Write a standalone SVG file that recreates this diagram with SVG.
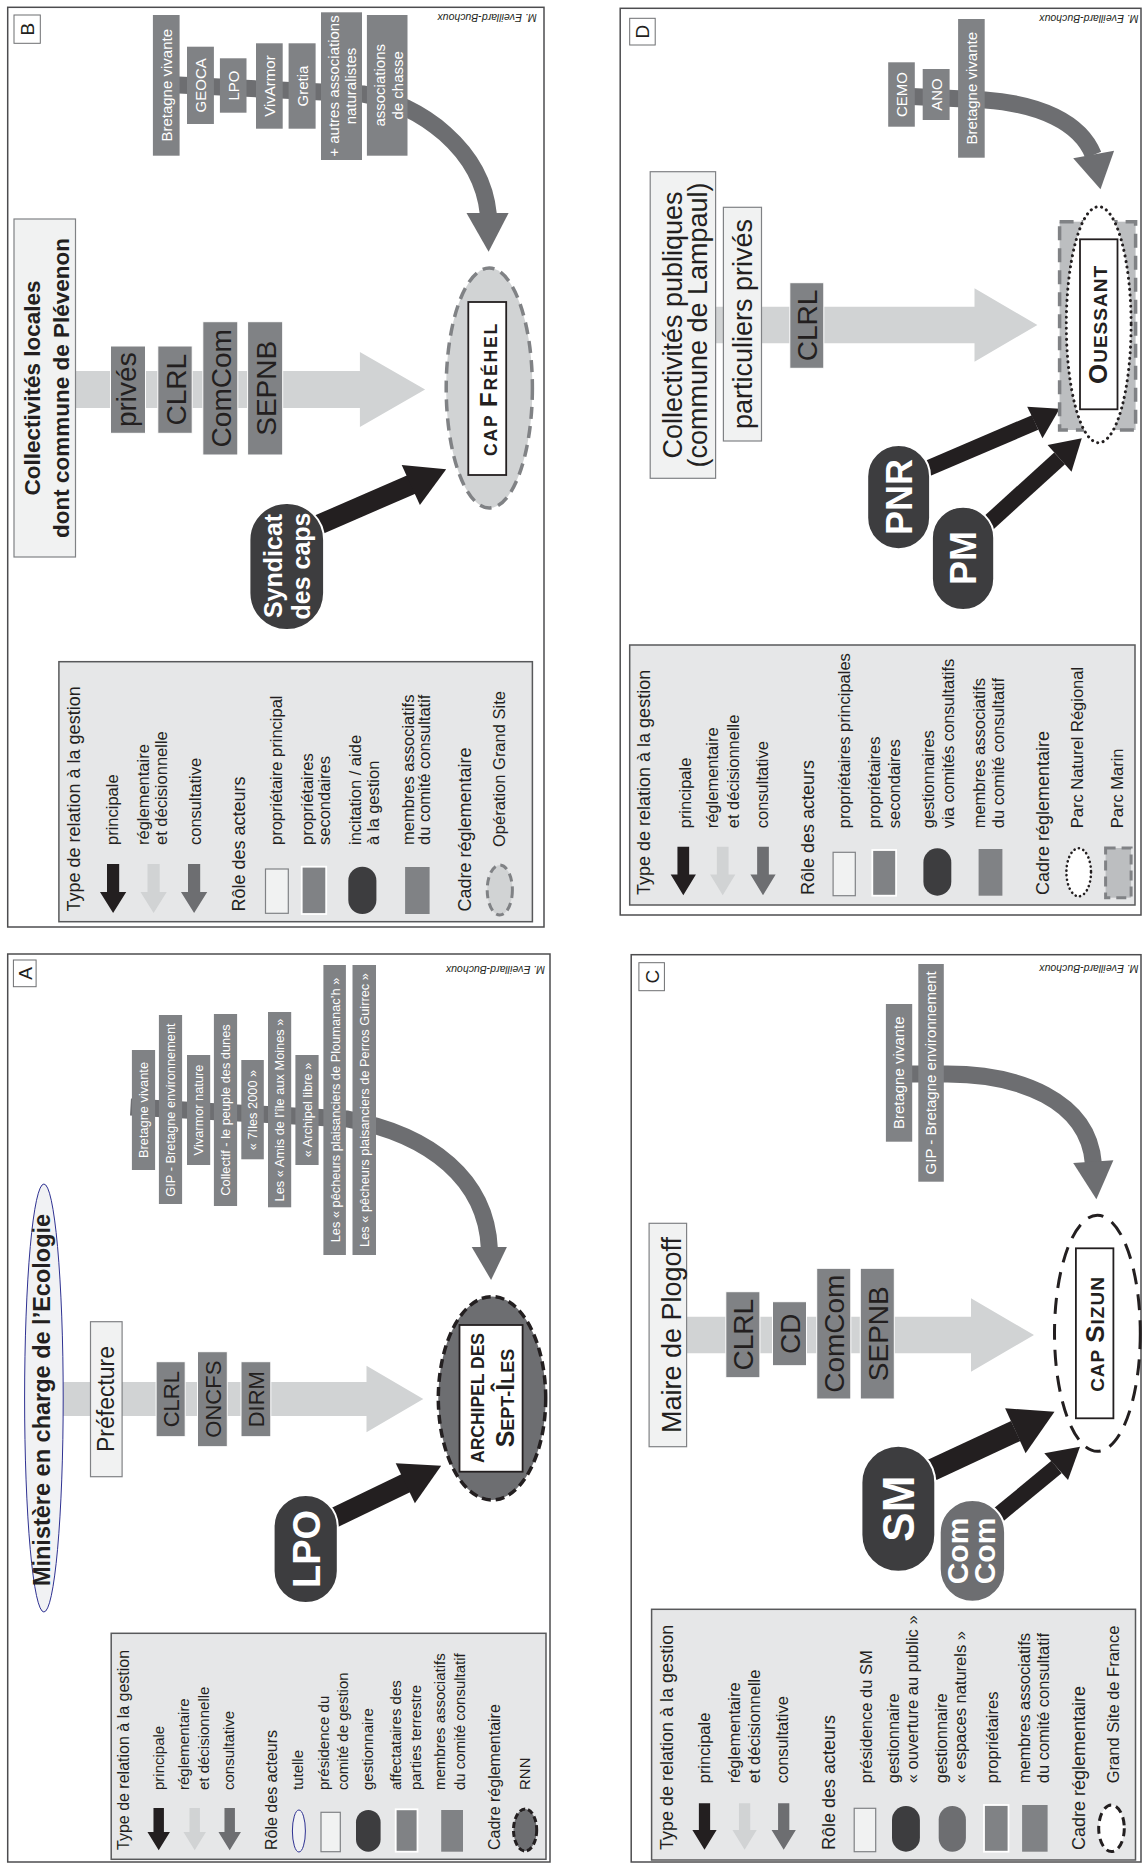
<svg xmlns="http://www.w3.org/2000/svg" width="1144" height="1863" viewBox="0 0 1144 1863">
<defs>
<style>
text{font-family:"Liberation Sans",Arial,Helvetica,sans-serif;fill:#231f20}
.frame{fill:#fff;stroke:#4d4d4f;stroke-width:1.5}
.tag{fill:#fff;stroke:#6d6e71;stroke-width:1}
.lt{fill:#f1f2f2;stroke:#808285;stroke-width:1.2}
.gr{fill:#808285;stroke:#fff;stroke-width:1}
.grw{fill:#808285;stroke:#fff;stroke-width:1.8}
.grn{fill:#808285}
.dk{fill:#3d3d3f;stroke:#fff;stroke-width:2}
.dkn{fill:#3d3d3f}
.md{fill:#6d6e71;stroke:#fff;stroke-width:2}
.mdn{fill:#6d6e71}
.band{fill:#d1d3d4}
.flow{fill:none;stroke:#6d6e71;stroke-width:17}
.flowhead{fill:#6d6e71}
.main{fill:none;stroke:#231f20}
.mainhead{fill:#231f20}
.legend{fill:#e6e7e8;stroke:#58595b;stroke-width:1.5}
.credit{font-style:italic;font-size:10.5px}
.wt{fill:#fff}
.b{font-weight:bold}
.hd{font-size:18px}
.it{font-size:16.5px}
.hda{font-size:16px}
.ita{font-size:15px}
.as{font-size:15px;fill:#fff}
.asa{font-size:12.8px;fill:#fff}
.act{font-size:28px}
.site{fill:#fff;stroke:#231f20;stroke-width:1.8}
</style>
<path id="arr" d="M-5.8 0H5.8V28H12.5L0 49L-12.5 28H-5.8Z"/>
</defs>
<rect x="0" y="0" width="1144" height="1863" fill="#fff"/>

<!-- ===================== Panel B : Cap Fréhel ===================== -->
<g id="panel-b">
<rect class="frame" x="7.7" y="7.3" width="536.3" height="919.7"/>
<g id="b-tag"><rect class="tag" x="14" y="15" width="26.3" height="28.3"/><text font-size="19" text-anchor="middle" transform="translate(34,29.2) rotate(-90)">B</text></g>
<text class="credit" transform="translate(536.7,14) rotate(180)">M. Eveillard-Buchoux</text>

<g id="b-connectors">
<polygon class="band" points="75.8,371 359.9,371 359.9,352 425.1,389.5 359.9,427 359.9,408 75.8,408"/>
<path class="flow" d="M158 84 L363 94 C421 104 482 150 488.3 214"/>
<polygon class="flowhead" points="466.5,213 508.6,213 488.6,251.7"/>
<path class="main" stroke-width="20" d="M315.7 526 L412.5 484"/>
<polygon class="mainhead" points="401.7,465 446.2,469.3 419.9,505"/>
</g>

<g id="b-collectivites"><rect class="lt" x="14" y="219" width="61.5" height="338"/><text class="b" font-size="22.5" text-anchor="middle" transform="translate(40,388) rotate(-90)"><tspan x="0">Collectivités locales</tspan><tspan x="0" dy="28.9">dont commune de Plévenon</tspan></text></g>
<g id="b-prives"><rect class="gr" x="110.5" y="346" width="35" height="87.3"/><text class="act" text-anchor="middle" transform="translate(136.3,389.7) rotate(-90)">privés</text></g>
<g id="b-clrl"><rect class="gr" x="157.8" y="346" width="34.4" height="87.3"/><text class="act" text-anchor="middle" transform="translate(185.5,389.7) rotate(-90)">CLRL</text></g>
<g id="b-comcom"><rect class="gr" x="202.8" y="321.7" width="35" height="133.3"/><text class="act" text-anchor="middle" transform="translate(231,388.3) rotate(-90)">ComCom</text></g>
<g id="b-sepnb"><rect class="gr" x="247.6" y="321.7" width="35.1" height="133.3"/><text class="act" text-anchor="middle" transform="translate(275.7,388.3) rotate(-90)">SEPNB</text></g>

<g id="b-bretagne-vivante"><rect class="grn" x="152.9" y="15" width="26.7" height="140.7"/><text class="as" text-anchor="middle" transform="translate(171.9,85.3) rotate(-90)">Bretagne vivante</text></g>
<g id="b-geoca"><rect class="grn" x="187" y="46.7" width="26.9" height="77.3"/><text class="as" text-anchor="middle" transform="translate(206.1,85.3) rotate(-90)">GEOCA</text></g>
<g id="b-lpo"><rect class="grn" x="219.9" y="58.3" width="26.6" height="54.4"/><text class="as" text-anchor="middle" transform="translate(239,85.5) rotate(-90)">LPO</text></g>
<g id="b-vivarmor"><rect class="grn" x="256" y="43.3" width="26.7" height="85.4"/><text class="as" text-anchor="middle" transform="translate(275.1,86) rotate(-90)">VivArmor</text></g>
<g id="b-gretia"><rect class="grn" x="288.6" y="43.3" width="27" height="85.4"/><text class="as" text-anchor="middle" transform="translate(307.9,86) rotate(-90)">Gretia</text></g>
<g id="b-autres"><rect class="grn" x="321" y="12.3" width="41" height="147.7"/><text class="as" font-size="14.3" text-anchor="middle" transform="translate(338.8,86) rotate(-90)"><tspan x="0">+ autres associations</tspan><tspan x="0" dy="16.8">naturalistes</tspan></text></g>
<g id="b-chasse"><rect class="grn" x="366.9" y="15" width="40.6" height="140.7"/><text class="as" text-anchor="middle" transform="translate(385.1,85.3) rotate(-90)"><tspan x="0">associations</tspan><tspan x="0" dy="17.9">de chasse</tspan></text></g>

<g id="b-cap-frehel"><ellipse cx="489.3" cy="388" rx="43.1" ry="120" fill="#d1d3d4" stroke="#808285" stroke-width="3.5" stroke-dasharray="12 7"/><rect class="site" x="468.3" y="302" width="37.9" height="173"/><text class="b" text-anchor="middle" letter-spacing="1.8" transform="translate(496.5,389) rotate(-90)"><tspan font-size="17.5">CAP </tspan><tspan font-size="24.5">F</tspan><tspan font-size="17.5">RÉHEL</tspan></text></g>
<g id="b-syndicat"><rect class="dk" x="249.4" y="503" width="74.7" height="127" rx="37"/><text class="b wt" font-size="25" text-anchor="middle" transform="translate(282,566) rotate(-90)"><tspan x="0">Syndicat</tspan><tspan x="0" dy="28.4">des caps</tspan></text></g>

<g id="b-legend">
<rect class="legend" x="58.9" y="661.7" width="473.5" height="260"/>
<text class="hd" transform="translate(80,911.5) rotate(-90)">Type de relation à la gestion</text>
<use href="#arr" transform="translate(113.1,864) scale(1.05,1)" fill="#231f20"/>
<use href="#arr" transform="translate(153.6,864) scale(1.05,1)" fill="#d1d3d4"/>
<use href="#arr" transform="translate(194.1,864) scale(1.05,1)" fill="#6d6e71"/>
<text class="it" transform="translate(118.4,845) rotate(-90)">principale</text>
<text class="it" transform="translate(149.4,845) rotate(-90)"><tspan x="0">réglementaire</tspan><tspan x="0" dy="17.9">et décisionnelle</tspan></text>
<text class="it" transform="translate(200.5,845) rotate(-90)">consultative</text>
<text class="hd" transform="translate(245.2,911.5) rotate(-90)">Rôle des acteurs</text>
<rect class="lt" x="265.5" y="869" width="22.8" height="44.3"/>
<text class="it" transform="translate(282,845) rotate(-90)">propriétaire principal</text>
<rect class="grw" x="301.7" y="866.7" width="24.5" height="47.3"/>
<text class="it" transform="translate(313.1,845) rotate(-90)"><tspan x="0">propriétaires</tspan><tspan x="0" dy="16.8">secondaires</tspan></text>
<rect class="dkn" x="348.3" y="866.7" width="28.1" height="47.3" rx="14"/>
<text class="it" transform="translate(360.9,845) rotate(-90)"><tspan x="0">incitation / aide</tspan><tspan x="0" dy="17.9">à la gestion</tspan></text>
<rect class="grn" x="405.1" y="867" width="24.5" height="47"/>
<text class="it" transform="translate(413.6,845) rotate(-90)"><tspan x="0">membres associatifs</tspan><tspan x="0" dy="16.8">du comité consultatif</tspan></text>
<text class="hd" transform="translate(471.4,911.5) rotate(-90)">Cadre réglementaire</text>
<ellipse cx="499.8" cy="890" rx="12.6" ry="25" fill="#d1d3d4" stroke="#808285" stroke-width="3" stroke-dasharray="8 5"/>
<text class="it" transform="translate(505.1,847) rotate(-90)">Opération Grand Site</text>
</g>
</g>

<!-- ===================== Panel A : Archipel des Sept-Îles ===================== -->
<g id="panel-a">
<rect class="frame" x="7.7" y="954" width="542.3" height="908"/>
<g id="a-tag"><rect class="tag" x="13.4" y="960" width="22.7" height="26.7"/><text font-size="19" text-anchor="middle" transform="translate(31.5,973.3) rotate(-90)">A</text></g>
<text class="credit" transform="translate(545.1,966) rotate(180)">M. Eveillard-Buchoux</text>

<g id="a-connectors">
<polygon class="band" points="63.1,1382 366.5,1382 366.5,1365.7 423.3,1399 366.5,1432.3 366.5,1416 63.1,1416"/>
<path class="flow" stroke-width="15" d="M130.5 1107 L347.3 1119 C431.4 1135 486.2 1180 489.3 1248"/>
<polygon class="flowhead" points="471.7,1247 506.9,1247 491.1,1280"/>
<path class="main" stroke-width="20" d="M331.5 1519 L406.2 1483"/>
<polygon class="mainhead" points="395.7,1463.3 441.2,1465.7 414.9,1503.3"/>
</g>

<g id="a-ministere"><ellipse cx="43.9" cy="1398" rx="19.3" ry="214" fill="#f1f2f4" stroke="#2e3192" stroke-width="1"/><text class="b" font-size="23.5" text-anchor="middle" transform="translate(50,1400) rotate(-90)">Ministère en charge de l’Ecologie</text></g>
<g id="a-prefecture"><rect class="lt" x="90.5" y="1321.7" width="31.6" height="155"/><text font-size="23" text-anchor="middle" transform="translate(114.2,1399) rotate(-90)">Préfecture</text></g>
<g id="a-clrl"><rect class="gr" x="156.1" y="1361.7" width="29.1" height="75"/><text font-size="22" text-anchor="middle" transform="translate(179,1399.2) rotate(-90)">CLRL</text></g>
<g id="a-oncfs"><rect class="gr" x="197.5" y="1351.7" width="29.8" height="95"/><text font-size="22" text-anchor="middle" transform="translate(220.7,1399.2) rotate(-90)">ONCFS</text></g>
<g id="a-dirm"><rect class="gr" x="241" y="1361.7" width="29.8" height="75"/><text font-size="22" text-anchor="middle" transform="translate(264.2,1399.2) rotate(-90)">DIRM</text></g>

<g id="a-bretagne-vivante"><rect class="grn" x="131.9" y="1050" width="23.2" height="120"/><text class="asa" text-anchor="middle" transform="translate(148.3,1110) rotate(-90)">Bretagne vivante</text></g>
<g id="a-gip"><rect class="grn" x="158.9" y="1015" width="23.2" height="189"/><text class="asa" text-anchor="middle" transform="translate(175.3,1110) rotate(-90)">GIP - Bretagne environnement</text></g>
<g id="a-vivarmor"><rect class="grn" x="187" y="1055" width="23.2" height="110"/><text class="asa" text-anchor="middle" transform="translate(203.4,1110) rotate(-90)">Vivarmor nature</text></g>
<g id="a-collectif"><rect class="grn" x="213.9" y="1014" width="23.2" height="192"/><text class="asa" text-anchor="middle" transform="translate(230.3,1110) rotate(-90)">Collectif - le peuple des dunes</text></g>
<g id="a-7iles"><rect class="grn" x="241.3" y="1060" width="22.5" height="99.3"/><text class="asa" text-anchor="middle" transform="translate(257.4,1110) rotate(-90)">« 7Iles 2000 »</text></g>
<g id="a-amis"><rect class="grn" x="268" y="1012" width="23.2" height="195.3"/><text class="asa" text-anchor="middle" transform="translate(284.4,1110) rotate(-90)">Les « Amis de l’île aux Moines »</text></g>
<g id="a-archipel-libre"><rect class="grn" x="295.4" y="1055" width="23.2" height="110"/><text class="asa" text-anchor="middle" transform="translate(311.8,1110) rotate(-90)">« Archipel libre »</text></g>
<g id="a-ploumanach"><rect class="grn" x="323.4" y="965" width="22.5" height="290"/><text class="asa" text-anchor="middle" transform="translate(339.5,1110) rotate(-90)">Les « pêcheurs plaisanciers de Ploumanac’h »</text></g>
<g id="a-perros"><rect class="grn" x="352.5" y="965" width="23.5" height="290"/><text class="asa" text-anchor="middle" transform="translate(368.9,1110) rotate(-90)">Les « pêcheurs plaisanciers de Perros Guirrec »</text></g>

<g id="a-sept-iles"><ellipse cx="492" cy="1398.3" rx="53.7" ry="101.7" fill="#6d6e71" stroke="#231f20" stroke-width="3.5" stroke-dasharray="9 5"/><rect class="site" x="459.5" y="1325" width="63.1" height="146.7" stroke-width="2"/><text class="b" text-anchor="middle" transform="translate(484,1398) rotate(-90)"><tspan x="0" font-size="17.5">ARCHIPEL DES</tspan><tspan x="0" dy="29.5"><tspan font-size="25">S</tspan><tspan font-size="18">EPT-</tspan><tspan font-size="25">Î</tspan><tspan font-size="18">LES</tspan></tspan></text></g>
<g id="a-lpo"><rect class="dk" x="273.6" y="1495" width="64.2" height="108" rx="32"/><text class="b wt" font-size="38" text-anchor="middle" transform="translate(320.4,1549) rotate(-90)">LPO</text></g>

<g id="a-legend">
<rect class="legend" x="111.2" y="1633.3" width="434.8" height="226"/>
<text class="hda" transform="translate(129.1,1850) rotate(-90)">Type de relation à la gestion</text>
<use href="#arr" transform="translate(158.7,1808) scale(0.9,0.86)" fill="#231f20"/>
<use href="#arr" transform="translate(194.7,1808) scale(0.9,0.86)" fill="#d1d3d4"/>
<use href="#arr" transform="translate(229.7,1808) scale(0.9,0.86)" fill="#6d6e71"/>
<text class="ita" transform="translate(164.2,1790) rotate(-90)">principale</text>
<text class="ita" transform="translate(189.4,1790) rotate(-90)"><tspan x="0">réglementaire</tspan><tspan x="0" dy="19.5">et décisionnelle</tspan></text>
<text class="ita" transform="translate(234.3,1790) rotate(-90)">consultative</text>
<text class="hda" transform="translate(277.1,1850) rotate(-90)">Rôle des acteurs</text>
<ellipse cx="298.9" cy="1831" rx="6.5" ry="21" fill="#f1f2f4" stroke="#2e3192" stroke-width="1"/>
<text class="ita" transform="translate(303.1,1790) rotate(-90)">tutelle</text>
<rect class="lt" x="321" y="1812.3" width="19.3" height="39.4"/>
<text class="ita" transform="translate(328.6,1790) rotate(-90)"><tspan x="0">présidence du</tspan><tspan x="0" dy="19.7">comité de gestion</tspan></text>
<rect class="dkn" x="356" y="1810" width="24.6" height="41.7" rx="12.3"/>
<text class="ita" transform="translate(372.8,1790) rotate(-90)">gestionnaire</text>
<rect class="grw" x="395.7" y="1809.3" width="21.8" height="42.4"/>
<text class="ita" transform="translate(400.9,1790) rotate(-90)"><tspan x="0">affectataires des</tspan><tspan x="0" dy="20">parties terrestre</tspan></text>
<rect class="grn" x="441.2" y="1810" width="21.8" height="41.7"/>
<text class="ita" transform="translate(445.4,1790) rotate(-90)"><tspan x="0">membres associatifs</tspan><tspan x="0" dy="19.4">du comité consultatif</tspan></text>
<text class="hda" transform="translate(499.8,1850) rotate(-90)">Cadre réglementaire</text>
<ellipse cx="525.1" cy="1830" rx="11.6" ry="21" fill="#6d6e71" stroke="#231f20" stroke-width="3" stroke-dasharray="6 3"/>
<text class="ita" transform="translate(529.6,1790) rotate(-90)">RNN</text>
</g>
</g>

<!-- ===================== Panel D : Ouessant ===================== -->
<g id="panel-d">
<rect class="frame" x="620.2" y="8.3" width="520.8" height="906.7"/>
<g id="d-tag"><rect class="tag" x="629.7" y="18.3" width="25.5" height="26.7"/><text font-size="19" text-anchor="middle" transform="translate(649.4,31.7) rotate(-90)">D</text></g>
<text class="credit" transform="translate(1138.5,15) rotate(180)">M. Eveillard-Buchoux</text>

<g id="d-connectors">
<polygon class="band" points="702,306.7 974.5,306.7 974.5,288.3 1037.4,325 974.5,361.7 974.5,343.3 702,343.3"/>
<path class="flow" d="M901.2 96 L985 100 C1039.2 104 1080 122 1093.3 155"/>
<polygon class="flowhead" points="1073.2,158.3 1114.1,150.7 1100.5,189.3"/>
<path class="main" stroke-width="16" d="M921.6 471 L1035.1 422.5"/>
<polygon class="mainhead" points="1027.2,406.7 1059.6,408.7 1042.5,438.3"/>
<path class="main" stroke-width="16" d="M983 528 L1059.6 458.3"/>
<polygon class="mainhead" points="1047.6,445 1081.8,438.3 1071.5,471.7"/>
</g>

<g id="d-collectivites"><rect class="lt" x="650.2" y="171.7" width="65.4" height="306.6"/><text font-size="27" text-anchor="middle" transform="translate(681.5,325) rotate(-90)"><tspan x="0">Collectivités publiques</tspan><tspan x="0" dy="25.5">(commune de Lampaul)</tspan></text></g>
<g id="d-particuliers"><rect class="lt" x="723.4" y="207.3" width="38.1" height="233.7"/><text font-size="27" text-anchor="middle" transform="translate(752,324) rotate(-90)">particuliers privés</text></g>
<g id="d-clrl"><rect class="gr" x="789.8" y="282.7" width="34" height="85.6"/><text class="act" text-anchor="middle" transform="translate(817.1,325.5) rotate(-90)">CLRL</text></g>

<g id="d-cemo"><rect class="grn" x="888.2" y="62.3" width="26.6" height="64.4"/><text class="as" text-anchor="middle" transform="translate(907,94.5) rotate(-90)">CEMO</text></g>
<g id="d-ano"><rect class="grn" x="922.7" y="69" width="26.9" height="51"/><text class="as" text-anchor="middle" transform="translate(941.7,94.5) rotate(-90)">ANO</text></g>
<g id="d-bretagne-vivante"><rect class="grn" x="958.1" y="19" width="26.6" height="138.7"/><text class="as" text-anchor="middle" transform="translate(976.9,88.3) rotate(-90)">Bretagne vivante</text></g>

<g id="d-ouessant"><rect x="1059.6" y="221.7" width="76" height="208.3" fill="#bcbec0" stroke="#808285" stroke-width="3.5" stroke-dasharray="14 8"/><ellipse cx="1098.7" cy="324.7" rx="32.4" ry="118" fill="#fff" stroke="#231f20" stroke-width="3" stroke-dasharray="0.1 5.5" stroke-linecap="round"/><rect class="site" x="1080" y="239.3" width="37.5" height="170" stroke-width="2"/><text class="b" text-anchor="middle" letter-spacing="1" transform="translate(1106.6,324.5) rotate(-90)"><tspan font-size="26">O</tspan><tspan font-size="19">UESSANT</tspan></text></g>
<g id="d-pnr"><rect class="dk" x="867.2" y="445" width="62.9" height="104.3" rx="31.5"/><text class="b wt" font-size="36" text-anchor="middle" transform="translate(911.9,497) rotate(-90)">PNR</text></g>
<g id="d-pm"><rect class="dk" x="931.9" y="506.7" width="62.3" height="103.3" rx="31.2"/><text class="b wt" font-size="36" text-anchor="middle" transform="translate(976.3,558) rotate(-90)">PM</text></g>

<g id="d-legend">
<rect class="legend" x="629.7" y="645" width="505.3" height="260"/>
<text class="hd" transform="translate(650.4,895) rotate(-90)">Type de relation à la gestion</text>
<use href="#arr" transform="translate(683.3,846.7) scale(1.01,0.99)" fill="#231f20"/>
<use href="#arr" transform="translate(722.7,846.7) scale(1.01,0.99)" fill="#d1d3d4"/>
<use href="#arr" transform="translate(763,846.7) scale(1.01,0.99)" fill="#6d6e71"/>
<text class="it" transform="translate(691.3,828.3) rotate(-90)">principale</text>
<text class="it" transform="translate(718.3,828.3) rotate(-90)"><tspan x="0">réglementaire</tspan><tspan x="0" dy="20.4">et décisionnelle</tspan></text>
<text class="it" transform="translate(768.4,828.3) rotate(-90)">consultative</text>
<text class="hd" transform="translate(814.4,895) rotate(-90)">Rôle des acteurs</text>
<rect class="lt" x="833.1" y="852.3" width="22.2" height="43.4"/>
<text class="it" transform="translate(850.1,828.3) rotate(-90)">propriétaires principales</text>
<rect class="grw" x="872.3" y="850" width="23.8" height="45.7"/>
<text class="it" transform="translate(880.1,828.3) rotate(-90)"><tspan x="0">propriétaires</tspan><tspan x="0" dy="20.1">secondaires</tspan></text>
<rect class="dkn" x="923.4" y="848.3" width="27.9" height="47.4" rx="14"/>
<text class="it" transform="translate(933.6,828.3) rotate(-90)"><tspan x="0">gestionnaires</tspan><tspan x="0" dy="20.2">via comités consultatifs</tspan></text>
<rect class="grn" x="978.6" y="849" width="23.8" height="46.7"/>
<text class="it" transform="translate(984.7,828.3) rotate(-90)"><tspan x="0">membres associatifs</tspan><tspan x="0" dy="19.7">du comité consultatif</tspan></text>
<text class="hd" transform="translate(1049.4,895) rotate(-90)">Cadre réglementaire</text>
<ellipse cx="1078.7" cy="872.3" rx="12.3" ry="24" fill="#fff" stroke="#231f20" stroke-width="2.6" stroke-dasharray="0.1 4.5" stroke-linecap="round"/>
<text class="it" transform="translate(1083.4,828.3) rotate(-90)">Parc Naturel Régional</text>
<rect x="1105.6" y="848" width="25.5" height="49.7" fill="#bcbec0" stroke="#808285" stroke-width="3" stroke-dasharray="10 6"/>
<text class="it" transform="translate(1122.6,828.3) rotate(-90)">Parc Marin</text>
</g>
</g>

<!-- ===================== Panel C : Cap Sizun ===================== -->
<g id="panel-c">
<rect class="frame" x="631.2" y="954.7" width="509.8" height="907.3"/>
<g id="c-tag"><rect class="tag" x="638.9" y="962.7" width="25.5" height="28"/><text font-size="19" text-anchor="middle" transform="translate(658.6,976.7) rotate(-90)">C</text></g>
<text class="credit" transform="translate(1138.5,965) rotate(180)">M. Eveillard-Buchoux</text>

<g id="c-connectors">
<polygon class="band" points="686.6,1316.7 971,1316.7 971,1298.3 1034,1335 971,1371.7 971,1353.3 686.6,1353.3"/>
<path class="flow" d="M901.2 1074 L947.2 1074 C1018.7 1074 1088.2 1100 1093.3 1163"/>
<polygon class="flowhead" points="1073.2,1163 1113.4,1160.3 1096.4,1199.3"/>
<path class="main" stroke-width="22" d="M931.9 1470 L1015.7 1431"/>
<polygon class="mainhead" points="1005.1,1408.3 1054.5,1411.7 1025.6,1453.3"/>
<path class="main" stroke-width="16" d="M998.3 1515 L1056.5 1467"/>
<polygon class="mainhead" points="1044.3,1453.3 1080,1446.7 1068,1480"/>
</g>

<g id="c-maire"><rect class="lt" x="649.1" y="1223.3" width="37.5" height="223.4"/><text font-size="27" text-anchor="middle" transform="translate(681,1335) rotate(-90)">Maire de Plogoff</text></g>
<g id="c-clrl"><rect class="gr" x="725.8" y="1291.7" width="34.1" height="86"/><text class="act" text-anchor="middle" transform="translate(753.1,1334.7) rotate(-90)">CLRL</text></g>
<g id="c-cd"><rect class="gr" x="772.5" y="1301.7" width="34" height="64"/><text class="act" text-anchor="middle" transform="translate(799.7,1333.7) rotate(-90)">CD</text></g>
<g id="c-comcom"><rect class="gr" x="816.7" y="1268.3" width="34.1" height="130.7"/><text class="act" text-anchor="middle" transform="translate(844,1333.7) rotate(-90)">ComCom</text></g>
<g id="c-sepnb"><rect class="gr" x="860.3" y="1268.3" width="34" height="130.7"/><text class="act" text-anchor="middle" transform="translate(887.6,1333.7) rotate(-90)">SEPNB</text></g>

<g id="c-bretagne-vivante"><rect class="grn" x="885.9" y="1004" width="26.3" height="137.7"/><text class="as" text-anchor="middle" transform="translate(904.3,1072.8) rotate(-90)">Bretagne vivante</text></g>
<g id="c-gip"><rect class="grn" x="918.3" y="964" width="25.5" height="217.7"/><text class="as" font-size="14.5" text-anchor="middle" transform="translate(936.1,1072.8) rotate(-90)">GIP - Bretagne environnement</text></g>

<g id="c-cap-sizun"><ellipse cx="1097.4" cy="1333.3" rx="42.9" ry="118" fill="#fff" stroke="#231f20" stroke-width="3" stroke-dasharray="16 10"/><rect class="site" x="1075.9" y="1248.3" width="37.5" height="170" stroke-width="2"/><text class="b" text-anchor="middle" letter-spacing="1" transform="translate(1103.6,1334) rotate(-90)"><tspan font-size="19">CAP </tspan><tspan font-size="26">S</tspan><tspan font-size="19">IZUN</tspan></text></g>
<g id="c-sm"><rect class="dk" x="861.4" y="1445.7" width="73.9" height="126" rx="37"/><text class="b wt" font-size="44" text-anchor="middle" transform="translate(914.4,1508.7) rotate(-90)">SM</text></g>
<g id="c-comcom-pill"><rect class="md" x="939.7" y="1500" width="65.4" height="101.7" rx="32.7"/><text class="b wt" font-size="30" text-anchor="middle" transform="translate(968.2,1551) rotate(-90)"><tspan x="0">Com</tspan><tspan x="0" dy="26.6">Com</tspan></text></g>

<g id="c-legend">
<rect class="legend" x="651.6" y="1609.3" width="483.9" height="250.7"/>
<text class="hd" transform="translate(673.1,1850) rotate(-90)">Type de relation à la gestion</text>
<use href="#arr" transform="translate(704.5,1803.3) scale(0.97,0.95)" fill="#231f20"/>
<use href="#arr" transform="translate(744.6,1803.3) scale(0.97,0.95)" fill="#d1d3d4"/>
<use href="#arr" transform="translate(783.7,1803.3) scale(0.97,0.95)" fill="#6d6e71"/>
<text class="it" transform="translate(709.8,1783.3) rotate(-90)">principale</text>
<text class="it" transform="translate(739.5,1783.3) rotate(-90)"><tspan x="0">réglementaire</tspan><tspan x="0" dy="20.4">et décisionnelle</tspan></text>
<text class="it" transform="translate(788.1,1783.3) rotate(-90)">consultative</text>
<text class="hd" transform="translate(834.8,1850) rotate(-90)">Rôle des acteurs</text>
<rect class="lt" x="854.2" y="1808.3" width="21.5" height="43.4"/>
<text class="it" transform="translate(871.6,1783.3) rotate(-90)">présidence du SM</text>
<rect class="dkn" x="892" y="1806" width="27.9" height="45.7" rx="14"/>
<text class="it" transform="translate(899.3,1783.3) rotate(-90)"><tspan x="0">gestionnaire</tspan><tspan x="0" dy="18.8">« ouverture au public »</tspan></text>
<rect class="mdn" x="938.7" y="1806" width="27.2" height="45.7" rx="13.6"/>
<text class="it" transform="translate(947.2,1783.3) rotate(-90)"><tspan x="0">gestionnaire</tspan><tspan x="0" dy="18.7">« espaces naturels »</tspan></text>
<rect class="grw" x="984" y="1805" width="24.5" height="46.7"/>
<text class="it" transform="translate(998.3,1783.3) rotate(-90)">propriétaires</text>
<rect class="grn" x="1022.1" y="1805" width="25.5" height="46.7"/>
<text class="it" transform="translate(1029.7,1783.3) rotate(-90)"><tspan x="0">membres associatifs</tspan><tspan x="0" dy="19.7">du comité consultatif</tspan></text>
<text class="hd" transform="translate(1085.1,1850) rotate(-90)">Cadre réglementaire</text>
<ellipse cx="1111.5" cy="1828.3" rx="12.8" ry="23.3" fill="#fff" stroke="#231f20" stroke-width="3" stroke-dasharray="8 5"/>
<text class="it" transform="translate(1119.2,1783.3) rotate(-90)">Grand Site de France</text>
</g>
</g>
</svg>
